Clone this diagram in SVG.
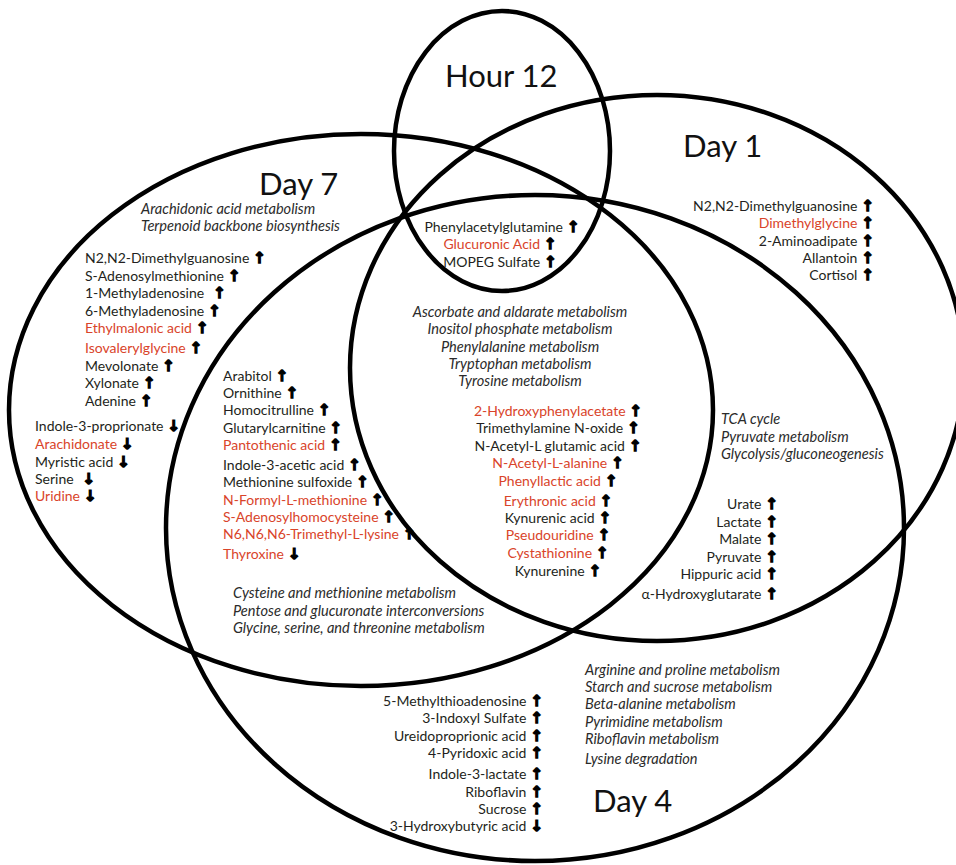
<svg xmlns="http://www.w3.org/2000/svg" width="956" height="865" viewBox="0 0 956 865">
<style>
text { font-family: Lato, "Liberation Sans", sans-serif; font-size: 14px; fill: #231f20; }
.r { fill: #d9442a; }
.i { font-style: italic; fill: #2b2b2b; font-size: 14.6px; }
.m { text-anchor: middle; }
.e { text-anchor: end; }
.big { font-size: 31px; fill: #111; }
.a { font-family: "DejaVu Sans", sans-serif; font-weight: bold; font-size: 15px; fill: #000; stroke: #000; stroke-width: 1.3; stroke-linejoin: miter; }
ellipse { fill: none; stroke: #000; stroke-width: 4.5; }
</style>
<rect width="956" height="865" fill="#fff"/>

<g id="set-day7">
  <ellipse cx="361" cy="410" rx="352" ry="276"/>
  <text class="big" x="259" y="195">Day 7</text>
</g>
<g id="set-day4">
  <ellipse cx="535" cy="528" rx="369" ry="333"/>
  <text class="big" x="593" y="812">Day 4</text>
</g>
<g id="set-day1">
  <ellipse cx="657" cy="368" rx="307" ry="273"/>
  <text class="big" x="683" y="157">Day 1</text>
</g>
<g id="set-hour12">
  <ellipse cx="502" cy="151" rx="108" ry="140"/>
  <text class="big" x="445" y="87">Hour 12</text>
</g>

<g id="region-day7-only">
  <text class="i" x="141" y="214">Arachidonic acid metabolism</text>
  <text class="i" x="141" y="231">Terpenoid backbone biosynthesis</text>
  <text x="85" y="263">N2,N2-Dimethylguanosine<tspan class="a" dx="4">↑</tspan></text>
  <text x="85" y="281">S-Adenosylmethionine<tspan class="a" dx="4">↑</tspan></text>
  <text x="85" y="298">1-Methyladenosine<tspan class="a" dx="9">↑</tspan></text>
  <text x="85" y="316">6-Methyladenosine<tspan class="a" dx="4">↑</tspan></text>
  <text x="85" y="333"><tspan class="r">Ethylmalonic acid</tspan><tspan class="a" dx="4">↑</tspan></text>
  <text x="85" y="353"><tspan class="r">Isovalerylglycine</tspan><tspan class="a" dx="4">↑</tspan></text>
  <text x="85" y="371">Mevolonate<tspan class="a" dx="4">↑</tspan></text>
  <text x="85" y="388">Xylonate<tspan class="a" dx="4">↑</tspan></text>
  <text x="85" y="406">Adenine<tspan class="a" dx="4">↑</tspan></text>
  <text x="35" y="431">Indole-3-proprionate<tspan class="a" dx="4">↓</tspan></text>
  <text x="35" y="449"><tspan class="r">Arachidonate</tspan><tspan class="a" dx="4">↓</tspan></text>
  <text x="35" y="467">Myristic acid<tspan class="a" dx="4">↓</tspan></text>
  <text x="35" y="484">Serine<tspan class="a" dx="9">↓</tspan></text>
  <text x="35" y="501"><tspan class="r">Uridine</tspan><tspan class="a" dx="4">↓</tspan></text>
</g>

<g id="region-day7-day4">
  <text x="223" y="381">Arabitol<tspan class="a" dx="4">↑</tspan></text>
  <text x="223" y="398">Ornithine<tspan class="a" dx="4">↑</tspan></text>
  <text x="223" y="415">Homocitrulline<tspan class="a" dx="4">↑</tspan></text>
  <text x="223" y="433">Glutarylcarnitine<tspan class="a" dx="4">↑</tspan></text>
  <text x="223" y="450"><tspan class="r">Pantothenic acid</tspan><tspan class="a" dx="4">↑</tspan></text>
  <text x="223" y="470">Indole-3-acetic acid<tspan class="a" dx="4">↑</tspan></text>
  <text x="223" y="487">Methionine sulfoxide<tspan class="a" dx="4">↑</tspan></text>
  <text x="223" y="505"><tspan class="r">N-Formyl-L-methionine</tspan><tspan class="a" dx="4">↑</tspan></text>
  <text x="223" y="522"><tspan class="r">S-Adenosylhomocysteine</tspan><tspan class="a" dx="4">↑</tspan></text>
  <text x="223" y="539"><tspan class="r">N6,N6,N6-Trimethyl-L-lysine</tspan><tspan class="a" dx="4">↑</tspan></text>
  <text x="223" y="559"><tspan class="r">Thyroxine</tspan><tspan class="a" dx="4">↓</tspan></text>
  <text class="i" x="233" y="598">Cysteine and methionine metabolism</text>
  <text class="i" x="233" y="616">Pentose and glucuronate interconversions</text>
  <text class="i" x="233" y="633">Glycine, serine, and threonine metabolism</text>
</g>

<g id="region-all-four">
  <text class="m" x="502" y="232">Phenylacetylglutamine<tspan class="a" dx="4">↑</tspan></text>
  <text class="m" x="500" y="249"><tspan class="r">Glucuronic Acid</tspan><tspan class="a" dx="4">↑</tspan></text>
  <text class="m" x="500" y="267">MOPEG Sulfate<tspan class="a" dx="4">↑</tspan></text>
</g>

<g id="region-day1-day7-day4">
  <text class="i m" x="520" y="317">Ascorbate and aldarate metabolism</text>
  <text class="i m" x="520" y="334">Inositol phosphate metabolism</text>
  <text class="i m" x="520" y="352">Phenylalanine metabolism</text>
  <text class="i m" x="520" y="369">Tryptophan metabolism</text>
  <text class="i m" x="520" y="386">Tyrosine metabolism</text>
  <text class="m" x="558" y="416"><tspan class="r">2-Hydroxyphenylacetate</tspan><tspan class="a" dx="4">↑</tspan></text>
  <text class="m" x="558" y="433">Trimethylamine N-oxide<tspan class="a" dx="4">↑</tspan></text>
  <text class="m" x="558" y="451">N-Acetyl-L glutamic acid<tspan class="a" dx="4">↑</tspan></text>
  <text class="m" x="558" y="468"><tspan class="r">N-Acetyl-L-alanine</tspan><tspan class="a" dx="4">↑</tspan></text>
  <text class="m" x="558" y="486"><tspan class="r">Phenyllactic acid</tspan><tspan class="a" dx="4">↑</tspan></text>
  <text class="m" x="558" y="506"><tspan class="r">Erythronic acid</tspan><tspan class="a" dx="4">↑</tspan></text>
  <text class="m" x="558" y="523">Kynurenic acid<tspan class="a" dx="4">↑</tspan></text>
  <text class="m" x="558" y="540"><tspan class="r">Pseudouridine</tspan><tspan class="a" dx="4">↑</tspan></text>
  <text class="m" x="558" y="558"><tspan class="r">Cystathionine</tspan><tspan class="a" dx="4">↑</tspan></text>
  <text class="m" x="558" y="576">Kynurenine<tspan class="a" dx="4">↑</tspan></text>
</g>

<g id="region-day1-only">
  <text class="e" x="874" y="211">N2,N2-Dimethylguanosine<tspan class="a" dx="4">↑</tspan></text>
  <text class="e" x="874" y="228"><tspan class="r">Dimethylglycine</tspan><tspan class="a" dx="4">↑</tspan></text>
  <text class="e" x="874" y="246">2-Aminoadipate<tspan class="a" dx="4">↑</tspan></text>
  <text class="e" x="874" y="263">Allantoin<tspan class="a" dx="4">↑</tspan></text>
  <text class="e" x="874" y="280">Cortisol<tspan class="a" dx="4">↑</tspan></text>
</g>

<g id="region-day1-day4">
  <text class="i" x="721" y="424">TCA cycle</text>
  <text class="i" x="721" y="442">Pyruvate metabolism</text>
  <text class="i" x="721" y="459">Glycolysis/gluconeogenesis</text>
  <text class="e" x="778" y="509">Urate<tspan class="a" dx="4">↑</tspan></text>
  <text class="e" x="778" y="527">Lactate<tspan class="a" dx="4">↑</tspan></text>
  <text class="e" x="778" y="544">Malate<tspan class="a" dx="4">↑</tspan></text>
  <text class="e" x="778" y="562">Pyruvate<tspan class="a" dx="4">↑</tspan></text>
  <text class="e" x="778" y="579">Hippuric acid<tspan class="a" dx="4">↑</tspan></text>
  <text class="e" x="778" y="599">α-Hydroxyglutarate<tspan class="a" dx="4">↑</tspan></text>
</g>

<g id="region-day4-only">
  <text class="e" x="543" y="706">5-Methylthioadenosine<tspan class="a" dx="4">↑</tspan></text>
  <text class="e" x="543" y="723">3-Indoxyl Sulfate<tspan class="a" dx="4">↑</tspan></text>
  <text class="e" x="543" y="741">Ureidoproprionic acid<tspan class="a" dx="4">↑</tspan></text>
  <text class="e" x="543" y="758">4-Pyridoxic acid<tspan class="a" dx="4">↑</tspan></text>
  <text class="e" x="543" y="779">Indole-3-lactate<tspan class="a" dx="4">↑</tspan></text>
  <text class="e" x="543" y="797">Riboflavin<tspan class="a" dx="4">↑</tspan></text>
  <text class="e" x="543" y="814">Sucrose<tspan class="a" dx="4">↑</tspan></text>
  <text class="e" x="543" y="831">3-Hydroxybutyric acid<tspan class="a" dx="4">↓</tspan></text>
  <text class="i" x="585" y="675">Arginine and proline metabolism</text>
  <text class="i" x="585" y="692">Starch and sucrose metabolism</text>
  <text class="i" x="585" y="709">Beta-alanine metabolism</text>
  <text class="i" x="585" y="727">Pyrimidine metabolism</text>
  <text class="i" x="585" y="744">Riboflavin metabolism</text>
  <text class="i" x="585" y="764">Lysine degradation</text>
</g>
</svg>
